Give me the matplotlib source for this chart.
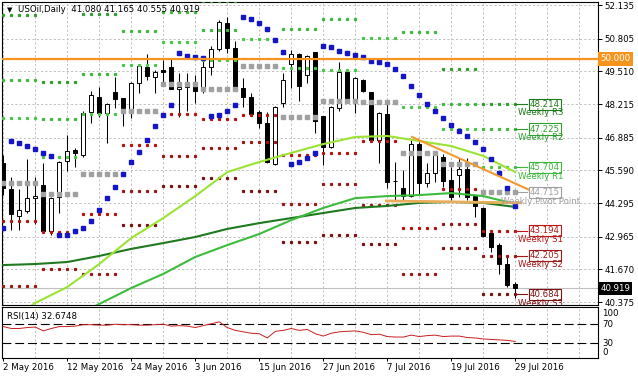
import matplotlib
matplotlib.use('Agg')
import matplotlib.pyplot as plt

plt.rcParams['font.family'] = ['DejaVu Sans']
plt.rcParams['font.size'] = 6.2

# --- daily USOil candles, 2 May - 29 Jul 2016 ---
dates = ['2 May 2016', '12 May 2016', '24 May 2016', '3 Jun 2016', '15 Jun 2016',
         '27 Jun 2016', '7 Jul 2016', '19 Jul 2016', '29 Jul 2016']

opens = [45.88, 44.85, 43.78, 43.98, 44.49, 45.01, 43.19, 44.53, 45.96, 46.39,
         46.20, 47.90, 48.49, 47.86, 48.69, 48.45, 48.02, 49.05, 49.68, 49.28,
         49.56, 49.68, 48.81, 48.89, 49.01, 48.85, 49.68, 50.39, 51.42, 50.43,
         48.85, 48.49, 47.90, 47.46, 45.84, 48.26, 49.80, 50.20, 49.36, 50.27,
         47.74, 46.51, 48.06, 49.48, 48.30, 49.17, 48.69, 46.79, 47.82, 45.17,
         44.89, 44.57, 46.63, 45.09, 45.48, 46.12, 45.21, 45.40, 45.64, 44.57,
         44.10, 43.11, 42.63, 41.88, 41.080]
highs = [46.20, 45.33, 44.85, 46.04, 45.33, 45.88, 44.52, 45.95, 46.99, 46.47,
         47.94, 48.73, 48.89, 48.26, 49.28, 48.47, 49.07, 49.74, 50.20, 49.56,
         49.96, 50.04, 49.44, 49.44, 49.36, 50.08, 50.51, 51.54, 51.66, 50.71,
         49.25, 48.65, 47.98, 47.90, 48.12, 49.44, 50.35, 50.23, 50.16, 50.29,
         47.76, 48.12, 49.88, 49.56, 49.27, 49.21, 48.71, 47.90, 48.22, 45.92,
         45.60, 46.79, 46.71, 45.88, 46.32, 46.24, 45.72, 46.08, 46.08, 44.61,
         44.12, 43.23, 42.71, 42.20, 41.165]
lows = [44.61, 43.23, 43.23, 43.90, 43.47, 43.15, 43.03, 43.90, 45.56, 45.72,
        46.12, 47.46, 47.70, 46.67, 48.06, 47.35, 47.66, 48.65, 49.17, 48.65,
        49.05, 48.79, 47.70, 47.94, 48.26, 48.65, 49.36, 50.31, 50.23, 48.83,
        48.10, 47.80, 47.27, 45.88, 45.80, 48.10, 48.85, 48.33, 49.05, 47.07,
        45.80, 46.47, 47.94, 48.26, 47.86, 48.69, 46.77, 45.88, 44.89, 44.42,
        44.42, 44.55, 44.61, 44.93, 45.13, 44.93, 44.42, 44.53, 44.42, 43.73,
        42.97, 42.36, 41.49, 40.97, 40.555]
closes = [44.89, 43.86, 44.02, 44.49, 44.57, 43.19, 44.49, 45.92, 46.35, 46.28,
          47.86, 48.57, 47.86, 48.22, 48.41, 48.06, 49.05, 49.72, 49.32, 49.48,
          49.48, 48.81, 48.89, 49.05, 48.73, 49.68, 50.39, 51.46, 50.43, 48.85,
          48.49, 47.82, 47.46, 45.92, 48.10, 49.17, 50.20, 48.93, 50.12, 47.54,
          46.51, 48.10, 49.48, 48.33, 49.25, 48.73, 46.79, 47.86, 45.13, 45.15,
          44.57, 46.63, 45.09, 45.48, 46.28, 45.17, 44.53, 45.64, 44.53, 44.18,
          42.99, 42.55, 41.88, 41.05, 40.919]

# parabolic SAR
sar = [43.31, 46.75, 46.67, 46.55, 46.43, 46.28, 46.16, 43.03, 43.03, 43.19,
       43.31, 43.58, 44.02, 44.49, 44.93, 45.44, 45.92, 46.32, 46.79, 47.35,
       47.78, 48.18, 50.23, 50.12, 50.08, 50.04, 47.74, 47.78, 47.94, 48.18,
       51.66, 51.58, 51.42, 51.19, 50.75, 50.27, 45.84, 45.92, 46.08, 46.28,
       50.51, 50.47, 50.31, 50.23, 50.16, 50.08, 49.92, 49.88, 49.80, 49.60,
       49.32, 48.93, 48.57, 48.22, 47.94, 47.66, 47.38, 47.15, 46.95, 46.71,
       46.43, 46.04, 45.48, 44.89, 44.18]

# RSI(14)
rsi = [64, 60, 60, 62, 63, 55, 60, 64, 64, 65,
       68, 68, 67, 67, 69, 68, 68, 67, 67, 68,
       69, 65, 66, 65, 62, 66, 70, 74, 62, 56,
       53, 50, 49, 40, 54, 56, 60, 56, 58, 49,
       44, 50, 53, 54, 55, 52, 47, 48, 43, 42,
       42, 46, 43, 45, 46, 43, 44, 44, 41, 40,
       38, 37, 36, 35, 32.6748]

# moving averages, read every 4th bar
ma_bars = [0, 4, 8, 12, 16, 20, 24, 28, 32, 36, 40, 44, 48, 52, 56, 60, 64]
ma_fast = [39.47, 40.34, 40.97, 41.88, 42.91, 43.70, 44.57, 45.52, 45.92,
           46.28, 46.63, 46.91, 46.95, 46.75, 46.55, 46.16, 45.52]
ma_mid_bars = [8, 12, 16, 20, 24, 28, 32, 36, 40, 44, 48, 52, 56, 60, 64]
ma_mid = [39.66, 40.30, 40.93, 41.49, 42.16, 42.63, 43.07, 43.62, 44.10,
          44.49, 44.57, 44.61, 44.69, 44.57, 44.26]
ma_slow = [41.84, 41.88, 41.96, 42.20, 42.48, 42.71, 42.95, 43.27, 43.50,
           43.70, 43.90, 44.10, 44.18, 44.30, 44.34, 44.30, 44.14]

# week before 2 May (high, low, close) for the first weekly pivot set
prev_week = (46.60, 42.52, 46.15)
# current week pivot labels
cur_names = ['Weekly R3', 'Weekly R2', 'Weekly R1', 'Weekly Pivot Point',
             'Weekly S1', 'Weekly S2', 'Weekly S3']
cur_levels = [48.214, 47.225, 45.704, 44.715, 43.194, 42.205, 40.684]

# hand drawn objects
trend_x, trend_y = [51.1, 65.8], [46.91, 44.81]
support_x, support_y = [47.7, 64.8], [44.38, 44.30]
round_level = 50.0
last_price = 40.919

price_ticks = [40.375, 41.670, 42.965, 44.295, 45.590, 46.885, 48.215,
               49.510, 50.805, 52.135]

# ---------------------------------------------------------------
W, H = 638, 379
fig = plt.figure(figsize=(W / 100, H / 100), dpi=100)
ax = fig.add_axes([2 / W, 1 - 304.5 / H, 596 / W, 302.5 / H])
ax2 = fig.add_axes([2 / W, 1 - 357.7 / H, 596 / W, 50.4 / H])

n = len(closes)
bars = list(range(n))
xlim = (-0.16, 74.34)
grid_kw = dict(color='#c0c0c0', linestyle=(0, (2.2, 2.2)), linewidth=0.7)

for a in (ax, ax2):
    a.set_xlim(*xlim)
    for s in a.spines.values():
        s.set_linewidth(0.8)
    a.set_xticks(range(0, 73, 4), minor=True)
    a.grid(True, which='minor', axis='x', **grid_kw)
    a.set_axisbelow(True)

# main panel
ax.set_ylim(40.278, 52.254)
ax.yaxis.tick_right()
ax.set_yticks(price_ticks)
ax.set_yticklabels(['%.3f' % v for v in price_ticks])
ax.grid(True, which='major', axis='y', **grid_kw)
ax.tick_params(axis='y', length=3, width=0.7, pad=1.5)
ax.set_xticks([])
ax.tick_params(axis='x', which='both', length=0)

# candles
ax.vlines(bars, lows, highs, color='black', lw=0.75, zorder=3)
body_b = [min(o, c) for o, c in zip(opens, closes)]
body_h = [max(abs(c - o), 0.01) for o, c in zip(opens, closes)]
body_c = ['black' if c < o else 'white' for o, c in zip(opens, closes)]
ax.bar(bars, body_h, bottom=body_b, width=0.55, color=body_c,
       edgecolor='black', linewidth=0.7, zorder=3.2)

# weekly pivots
r_cols = ['#2e9e2e', '#3cb83c', '#46c846']
s_cols = ['#b01414', '#9c1616', '#7a1010']
piv_col = '#a0a0a0'
n_weeks = (n + 4) // 5
for k in range(n_weeks):
    wb = list(range(5 * k, min(5 * k + 5, n)))
    if k == n_weeks - 1:
        r3, r2, r1, p, s1, s2, s3 = cur_levels
    else:
        if k == 0:
            hh, ll, cc = prev_week
        else:
            pb = range(5 * (k - 1), 5 * k)
            hh = max(highs[i] for i in pb)
            ll = min(lows[i] for i in pb)
            cc = closes[5 * k - 1]
        p = (hh + ll + cc) / 3
        r1, s1 = 2 * p - ll, 2 * p - hh
        r2, s2 = p + (hh - ll), p - (hh - ll)
        r3, s3 = hh + 2 * (p - ll), ll - 2 * (hh - p)
    for lvl, col in zip([r3, r2, r1], r_cols):
        ax.plot(wb, [lvl] * len(wb), 's', ms=1.3, color=col, zorder=3.8)
    for lvl, col in zip([s1, s2, s3], s_cols):
        ax.plot(wb, [lvl] * len(wb), 's', ms=1.3, color=col, zorder=3.8)
    ax.plot(wb, [p] * len(wb), 's', ms=2.4, color=piv_col, zorder=3.8)

# moving averages
ax.plot(ma_bars, ma_slow, color='#1f7a1f', lw=1.5, zorder=4)
ax.plot(ma_mid_bars, ma_mid, color='#3dbb3d', lw=1.5, zorder=4)
ax.plot(ma_bars, ma_fast, color='#9be333', lw=1.5, zorder=4)

# parabolic SAR
ax.plot(bars, sar, 's', ms=2.2, color='#1414c8', zorder=4.5)

# drawn lines
ax.plot(support_x, support_y, color='#e8ad5a', lw=2.0, zorder=4.6,
        solid_capstyle='butt')
ax.plot(trend_x, trend_y, color='#f29a2e', lw=1.5, zorder=4.7)
ax.axhline(round_level, color='#f7941d', lw=1.6, zorder=5)
ax.axhline(last_price, color='#c0c0c0', lw=0.8, zorder=2)

# current week labels
label_cols = ['#1f7a1f', '#2e9e2e', '#3cb83c', '#a0a0a0',
              '#c01818', '#a01818', '#801010']
for name, lvl, col in zip(cur_names, cur_levels, label_cols):
    ax.plot([n - 1, 65.5], [lvl, lvl], color=col, lw=0.8, zorder=5)
    ax.text(67.7, lvl, '%.3f' % lvl, ha='center', va='center', color=col,
            zorder=6, bbox=dict(boxstyle='square,pad=0.12', fc='white',
                                ec=col, lw=0.8))
    ax.annotate(name, (67.2, lvl), xytext=(0, -3.2), textcoords='offset points',
                ha='center', va='top', color=col, zorder=6.5, clip_on=True)

# price boxes on the axis
ytr = ax.get_yaxis_transform()
ax.text(1.004, round_level, '50.000', transform=ytr, ha='left', va='center',
        color='white', clip_on=False, zorder=7,
        bbox=dict(boxstyle='square,pad=0.25', fc='#f7941d', ec='none'))
ax.text(1.004, last_price, '%.3f' % last_price, transform=ytr, ha='left',
        va='center', color='white', clip_on=False, zorder=7,
        bbox=dict(boxstyle='square,pad=0.25', fc='black', ec='none'))

# header
ax.text(0.0126, 0.9736, '\u25bc', transform=ax.transAxes, ha='center',
        va='center', fontsize=5, zorder=8)
ax.text(0.0268, 0.9736, 'USOil,Daily  41.080 41.165 40.555 40.919',
        transform=ax.transAxes, ha='left', va='center', zorder=8)

# RSI panel
ax2.set_ylim(-1.5, 104.6)
ax2.plot(bars, rsi, color='#c81e1e', lw=0.7, zorder=3)
ax2.axhline(70, color='black', lw=0.8, dashes=(8, 3.5), zorder=2)
ax2.axhline(30, color='black', lw=0.8, dashes=(8, 3.5), zorder=2)
ax2.yaxis.tick_right()
ax2.set_yticks([0, 30, 70, 100])
ax2.set_yticklabels(['0', '30', '70', '100'])
ax2.tick_params(axis='y', length=0, pad=3)
ylabs = ax2.get_yticklabels()
ylabs[0].set_va('bottom')
ylabs[3].set_va('top')
ax2.text(0.0084, 0.827, 'RSI(14) %.4f' % rsi[-1], transform=ax2.transAxes,
         ha='left', va='center')

ax2.set_xticks(list(range(0, n, 8)))
ax2.set_xticklabels(dates, ha='left')
ax2.tick_params(axis='x', which='major', length=2.5, width=0.7, pad=1.2)
ax2.tick_params(axis='x', which='minor', length=0)

fig.savefig('out.png', dpi=100, facecolor='white')
